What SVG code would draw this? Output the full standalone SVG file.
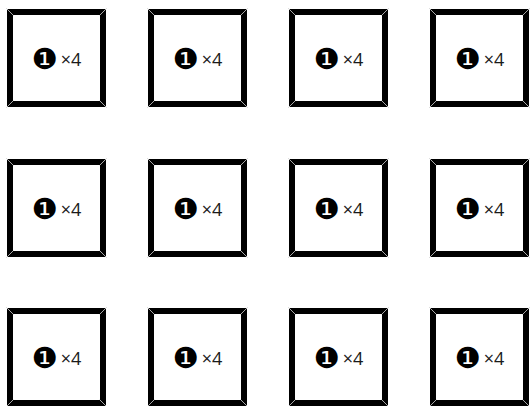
<svg xmlns="http://www.w3.org/2000/svg" xmlns:xlink="http://www.w3.org/1999/xlink" width="531" height="406" viewBox="0 0 531 406">
<style>
.frame{fill:#fff;stroke:#000;stroke-width:6}
.seam{stroke:#d4d4d4;stroke-width:0.8;fill:none}
.lbl{font-family:"Open Sans","Noto Sans",sans-serif;font-size:18px;fill:#1a1a1a;text-anchor:middle}
.num{font-family:"DejaVu Sans",sans-serif;font-size:29px;fill:#000}
</style>
<defs>
<g id="tile">
<rect class="frame" x="3" y="3" width="93" height="92"/>
<path class="seam" d="M-1,-1 L6.5,6.5 M100,-1 L92.5,6.5 M-1,99 L6.5,91.5 M100,99 L92.5,91.5"/>
</g>
</defs>
<rect width="531" height="406" fill="#fff"/>
<g id="connectors"></g>
<g id="n1" transform="translate(7,9)"><use xlink:href="#tile"/><text class="lbl" x="49.5" y="60"><tspan class="num">❶</tspan><tspan dx="3" dy="-3.5">×4</tspan></text></g>
<g id="n2" transform="translate(148,9)"><use xlink:href="#tile"/><text class="lbl" x="49.5" y="60"><tspan class="num">❶</tspan><tspan dx="3" dy="-3.5">×4</tspan></text></g>
<g id="n3" transform="translate(289,9)"><use xlink:href="#tile"/><text class="lbl" x="49.5" y="60"><tspan class="num">❶</tspan><tspan dx="3" dy="-3.5">×4</tspan></text></g>
<g id="n4" transform="translate(430,9)"><use xlink:href="#tile"/><text class="lbl" x="49.5" y="60"><tspan class="num">❶</tspan><tspan dx="3" dy="-3.5">×4</tspan></text></g>
<g id="n5" transform="translate(7,159)"><use xlink:href="#tile"/><text class="lbl" x="49.5" y="60"><tspan class="num">❶</tspan><tspan dx="3" dy="-3.5">×4</tspan></text></g>
<g id="n6" transform="translate(148,159)"><use xlink:href="#tile"/><text class="lbl" x="49.5" y="60"><tspan class="num">❶</tspan><tspan dx="3" dy="-3.5">×4</tspan></text></g>
<g id="n7" transform="translate(289,159)"><use xlink:href="#tile"/><text class="lbl" x="49.5" y="60"><tspan class="num">❶</tspan><tspan dx="3" dy="-3.5">×4</tspan></text></g>
<g id="n8" transform="translate(430,159)"><use xlink:href="#tile"/><text class="lbl" x="49.5" y="60"><tspan class="num">❶</tspan><tspan dx="3" dy="-3.5">×4</tspan></text></g>
<g id="n9" transform="translate(7,308)"><use xlink:href="#tile"/><text class="lbl" x="49.5" y="60"><tspan class="num">❶</tspan><tspan dx="3" dy="-3.5">×4</tspan></text></g>
<g id="n10" transform="translate(148,308)"><use xlink:href="#tile"/><text class="lbl" x="49.5" y="60"><tspan class="num">❶</tspan><tspan dx="3" dy="-3.5">×4</tspan></text></g>
<g id="n11" transform="translate(289,308)"><use xlink:href="#tile"/><text class="lbl" x="49.5" y="60"><tspan class="num">❶</tspan><tspan dx="3" dy="-3.5">×4</tspan></text></g>
<g id="n12" transform="translate(430,308)"><use xlink:href="#tile"/><text class="lbl" x="49.5" y="60"><tspan class="num">❶</tspan><tspan dx="3" dy="-3.5">×4</tspan></text></g>
</svg>
